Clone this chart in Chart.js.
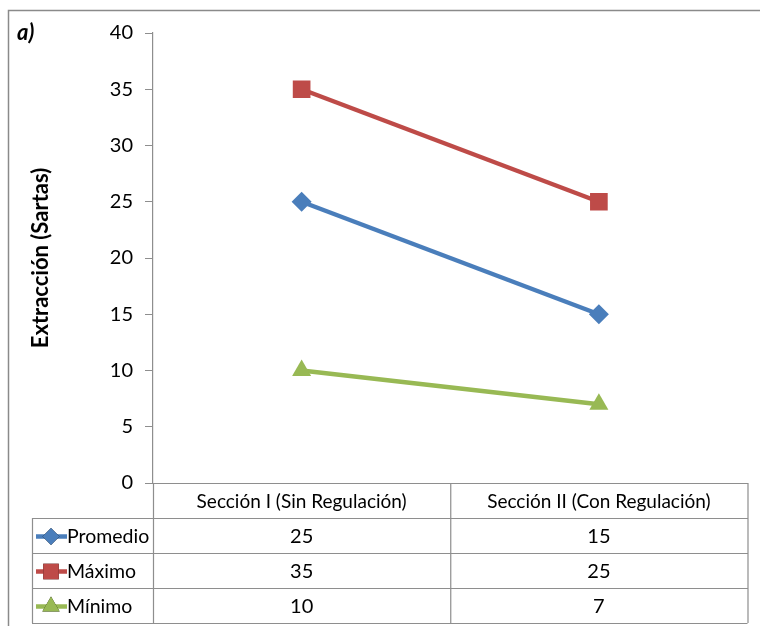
<!DOCTYPE html>
<html>
<head>
<meta charset="utf-8">
<script src="https://cdn.jsdelivr.net/npm/chart.js@4/dist/chart.umd.min.js"></script>
<style>
  html, body { margin: 0; padding: 0; background: #fff; }
  #wrap { width: 760px; height: 626px; position: relative; }
</style>
</head>
<body>
<div id="wrap"><canvas id="c" width="760" height="626"></canvas></div>
<script>
// Series and categories
const categories = ['Sección I (Sin Regulación)', 'Sección II (Con Regulación)'];
const seriesNames = ['Promedio', 'Máximo', 'Mínimo'];
const promedio = [25, 15];
const maximo = [35, 25];
const minimo = [10, 7];
const yMin = 0, yMax = 40, yStep = 5;
const axisTitle = 'Extracción (Sartas)';
const panelLabel = 'a)';

const FONT = 'Lato, "Open Sans", sans-serif';
const GRID = '#8e8e8e';

const styles = [
  { color: '#4A7EBB', pointStyle: 'rectRot', radius: 10, legendRadius: 8.5 },
  { color: '#BE4B48', pointStyle: 'rect', radius: 12.5, legendRadius: 11 },
  { color: '#98B954', pointStyle: 'triangle', radius: 11, legendRadius: 10 }
];
const values = [promedio, maximo, minimo];

// Data table under the plot and the frame around the chart
const tablePlugin = {
  id: 'dataTable',
  afterDraw(chart) {
    const ctx = chart.ctx;
    const a = chart.chartArea;
    const xs = chart.scales.x;
    const headerTop = a.bottom;
    const rowH = 35;
    const rowTops = [headerTop, headerTop + rowH, headerTop + 2 * rowH, headerTop + 3 * rowH];
    const tableBottom = headerTop + 4 * rowH;
    const legendLeft = 32;
    const mid = (xs.getPixelForValue(0) + xs.getPixelForValue(1)) / 2;

    ctx.save();
    // outer frame (left and top edges)
    ctx.strokeStyle = '#8a8a8a';
    ctx.lineWidth = 1.5;
    ctx.beginPath();
    ctx.moveTo(8.5, 626); ctx.lineTo(8.5, 10.5); ctx.lineTo(760, 10.5);
    ctx.stroke();

    // table grid
    ctx.strokeStyle = GRID;
    ctx.lineWidth = 1.2;
    ctx.beginPath();
    ctx.moveTo(a.left, headerTop + 0.5); ctx.lineTo(a.right, headerTop + 0.5);
    for (let i = 1; i < rowTops.length; i++) {
      ctx.moveTo(legendLeft, rowTops[i] + 0.5); ctx.lineTo(a.right, rowTops[i] + 0.5);
    }
    ctx.moveTo(legendLeft, tableBottom + 0.5); ctx.lineTo(a.right, tableBottom + 0.5);
    ctx.moveTo(legendLeft + 0.5, rowTops[1]); ctx.lineTo(legendLeft + 0.5, tableBottom);
    ctx.moveTo(a.left + 0.5, headerTop); ctx.lineTo(a.left + 0.5, tableBottom);
    ctx.moveTo(mid + 0.5, headerTop); ctx.lineTo(mid + 0.5, tableBottom);
    ctx.moveTo(a.right + 0.5, headerTop); ctx.lineTo(a.right + 0.5, tableBottom);
    ctx.stroke();

    // header texts
    ctx.fillStyle = '#000';
    ctx.textAlign = 'center';
    ctx.textBaseline = 'middle';
    ctx.font = '19px ' + FONT;
    categories.forEach((c, i) => {
      ctx.fillText(c, xs.getPixelForValue(i), headerTop + rowH / 2 + 1);
    });

    // value rows with legend keys
    values.forEach((vals, r) => {
      const cy = rowTops[r + 1] + rowH / 2 + 1;
      ctx.font = '20px ' + FONT;
      ctx.textAlign = 'center';
      vals.forEach((v, i) => ctx.fillText(String(v), xs.getPixelForValue(i), cy));
      const st = styles[r];
      ctx.strokeStyle = st.color;
      ctx.lineWidth = 4.5;
      ctx.beginPath();
      ctx.moveTo(36, cy); ctx.lineTo(67, cy);
      ctx.stroke();
      Chart.helpers.drawPoint(ctx, {
        pointStyle: st.pointStyle, radius: st.legendRadius, rotation: 0, borderWidth: 0
      }, 51, cy);
      ctx.fillStyle = st.color;
      ctx.fill();
      ctx.fillStyle = '#000';
      ctx.textAlign = 'left';
      ctx.font = '19.5px ' + FONT;
      ctx.fillText(seriesNames[r], 67, cy);
    });

    // panel label
    ctx.font = 'italic bold 22px ' + FONT;
    ctx.textAlign = 'left';
    ctx.textBaseline = 'alphabetic';
    ctx.fillText(panelLabel, 17, 40);
    ctx.restore();
  }
};

const datasets = seriesNames.map((name, i) => ({
  label: name,
  data: values[i],
  borderColor: styles[i].color,
  backgroundColor: styles[i].color,
  borderWidth: 4.5,
  pointStyle: styles[i].pointStyle,
  pointRadius: styles[i].radius,
  pointHoverRadius: styles[i].radius,
  pointBorderWidth: 0,
  tension: 0
}));

new Chart(document.getElementById('c'), {
  type: 'line',
  data: { labels: categories, datasets },
  options: {
    responsive: false,
    animation: false,
    devicePixelRatio: 1,
    layout: { padding: { left: 0, top: 33, right: 11, bottom: 143 } },
    plugins: { legend: { display: false }, tooltip: { enabled: false } },
    scales: {
      x: { display: false, offset: true },
      y: {
        min: yMin, max: yMax,
        ticks: { stepSize: yStep, padding: 12, color: '#000', font: { family: FONT, size: 20 } },
        grid: { drawOnChartArea: false, drawTicks: true, tickLength: 8, color: GRID },
        border: { display: true, color: GRID, width: 1.2 },
        title: {
          display: true, text: axisTitle, color: '#000',
          font: { family: FONT, size: 22, weight: 'bold' },
          padding: { top: 28, bottom: 0 }
        },
        afterFit(scale) { scale.width = 153; }
      }
    }
  },
  plugins: [tablePlugin]
});
</script>
</body>
</html>
